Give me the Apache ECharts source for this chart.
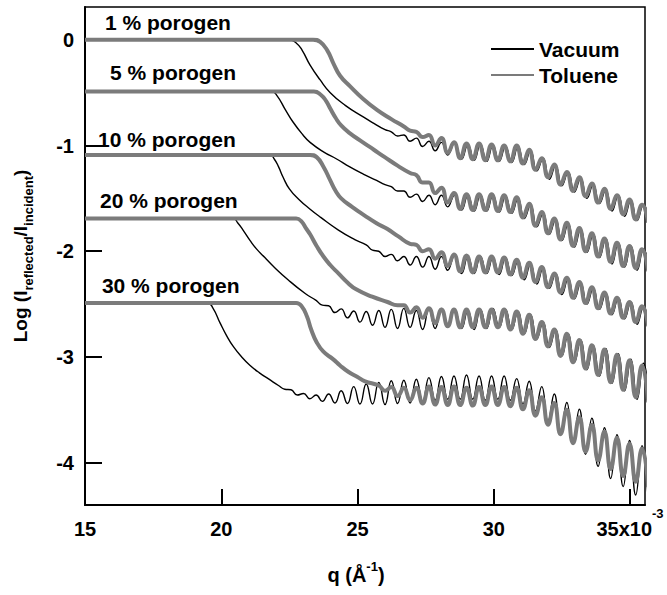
<!DOCTYPE html>
<html><head><meta charset="utf-8">
<script src="https://cdn.jsdelivr.net/npm/echarts@6/dist/echarts.min.js"></script>
<style>html,body{margin:0;padding:0;background:#fff}#c{width:667px;height:595px}</style>
</head><body><div id="c"></div>
<script>
// ---- data (q in units of 1e-3 1/Å, y = log reflectivity) ----
const xTicks = [15, 20, 25, 30, 35];
const yTicks = [-4, -3, -2, -1, 0];
const porogenLabels = ['1 % porogen', '5 % porogen', '10 % porogen', '20 % porogen', '30 % porogen'];

const vac1 = [[15,0],[22.49,0],[22.75,-0.03],[22.97,-0.1],[23.26,-0.24],[23.63,-0.38],[24.0,-0.5],[24.55,-0.62],[25.21,-0.73],[25.6,-0.79],
[26.01,-0.85],[26.24,-0.87],[26.47,-0.91],[26.70,-0.90],[26.93,-0.96],[27.16,-0.93],[27.39,-1.01],[27.62,-0.96],[27.85,-1.05],[28.08,-0.97],[28.31,-1.09],[28.56,-0.98],[28.82,-1.13],[29.05,-0.99],[29.28,-1.14],[29.51,-0.99],[29.74,-1.15],[29.97,-1.00],[30.20,-1.15],[30.43,-1.01],[30.66,-1.16],[30.89,-1.01],[31.12,-1.18],[31.35,-1.05],[31.58,-1.24],[31.81,-1.12],[32.04,-1.32],[32.27,-1.19],[32.50,-1.38],[32.73,-1.25],[32.96,-1.44],[33.19,-1.31],[33.42,-1.50],[33.65,-1.37],[33.88,-1.55],[34.11,-1.42],[34.34,-1.62],[34.57,-1.47],[34.80,-1.67],[35.03,-1.52],[35.26,-1.71],[35.49,-1.56],[35.72,-1.75]];

const tol1 = [[15,0],[23.37,0],[23.63,-0.02],[23.89,-0.1],[24.11,-0.22],[24.36,-0.34],[24.73,-0.44],[25.21,-0.56],[25.7,-0.66],[26.24,-0.75],[26.7,-0.82],
[26.93,-0.86],[27.16,-0.87],[27.39,-0.92],[27.62,-0.90],[27.85,-1.00],[28.08,-0.93],[28.31,-1.07],[28.54,-0.97],[28.77,-1.12],[29.00,-0.98],[29.23,-1.13],[29.46,-0.98],[29.69,-1.14],[29.92,-0.99],[30.15,-1.14],[30.38,-1.00],[30.61,-1.15],[30.84,-1.00],[31.07,-1.17],[31.30,-1.04],[31.53,-1.23],[31.76,-1.12],[31.99,-1.30],[32.22,-1.18],[32.45,-1.37],[32.68,-1.25],[32.91,-1.43],[33.14,-1.30],[33.37,-1.48],[33.60,-1.36],[33.83,-1.54],[34.06,-1.41],[34.29,-1.60],[34.52,-1.47],[34.75,-1.65],[34.98,-1.51],[35.21,-1.70],[35.44,-1.56],[35.67,-1.73]];

const vac5 = [[15,-0.49],[21.85,-0.49],[22.05,-0.53],[22.35,-0.66],[22.64,-0.78],[23.0,-0.9],[23.26,-0.97],[23.75,-1.06],[24.25,-1.13],[24.7,-1.2],[25.21,-1.27],[25.7,-1.33],
[26.01,-1.37],[26.24,-1.39],[26.47,-1.43],[26.70,-1.43],[26.93,-1.49],[27.16,-1.46],[27.39,-1.53],[27.62,-1.47],[27.85,-1.56],[28.08,-1.47],[28.31,-1.58],[28.56,-1.47],[28.82,-1.61],[29.05,-1.47],[29.28,-1.62],[29.51,-1.47],[29.74,-1.62],[29.97,-1.47],[30.20,-1.63],[30.43,-1.48],[30.66,-1.64],[30.89,-1.50],[31.12,-1.69],[31.35,-1.56],[31.58,-1.77],[31.81,-1.64],[32.04,-1.84],[32.27,-1.70],[32.50,-1.90],[32.73,-1.74],[32.96,-1.96],[33.19,-1.79],[33.42,-2.01],[33.65,-1.84],[33.88,-2.06],[34.11,-1.88],[34.34,-2.12],[34.57,-1.92],[34.80,-2.15],[35.03,-1.95],[35.26,-2.18],[35.49,-1.98],[35.72,-2.21]];

const tol5 = [[15,-0.49],[23.4,-0.49],[23.65,-0.52],[23.85,-0.58],[24.0,-0.65],[24.2,-0.74],[24.4,-0.81],[24.7,-0.88],[25.2,-0.97],[25.6,-1.04],[26.0,-1.11],[26.47,-1.19],[26.93,-1.26],
[27.16,-1.28],[27.39,-1.35],[27.62,-1.35],[27.85,-1.45],[28.08,-1.40],[28.31,-1.54],[28.54,-1.45],[28.77,-1.60],[29.00,-1.46],[29.23,-1.61],[29.46,-1.46],[29.69,-1.61],[29.92,-1.46],[30.15,-1.62],[30.38,-1.47],[30.61,-1.63],[30.84,-1.49],[31.07,-1.68],[31.30,-1.55],[31.53,-1.76],[31.76,-1.63],[31.99,-1.83],[32.22,-1.69],[32.45,-1.89],[32.68,-1.73],[32.91,-1.95],[33.14,-1.78],[33.37,-2.00],[33.60,-1.83],[33.83,-2.05],[34.06,-1.88],[34.29,-2.10],[34.52,-1.92],[34.75,-2.14],[34.98,-1.95],[35.21,-2.16],[35.44,-1.98],[35.67,-2.19]];

const vac10 = [[15,-1.09],[21.79,-1.09],[21.95,-1.13],[22.1,-1.2],[22.27,-1.3],[22.5,-1.41],[22.85,-1.51],[23.25,-1.6],[23.65,-1.68],[24.3,-1.8],[24.9,-1.89],
[25.32,-1.94],[25.55,-1.99],[25.78,-2.00],[26.01,-2.05],[26.24,-2.03],[26.47,-2.09],[26.70,-2.05],[26.93,-2.13],[27.16,-2.05],[27.39,-2.15],[27.62,-2.05],[27.85,-2.17],[28.08,-2.05],[28.31,-2.18],[28.56,-2.04],[28.82,-2.21],[29.05,-2.05],[29.28,-2.21],[29.51,-2.05],[29.74,-2.21],[29.97,-2.06],[30.20,-2.22],[30.43,-2.06],[30.66,-2.23],[30.89,-2.09],[31.12,-2.27],[31.35,-2.12],[31.58,-2.31],[31.81,-2.16],[32.04,-2.35],[32.27,-2.21],[32.50,-2.41],[32.73,-2.26],[32.96,-2.45],[33.19,-2.30],[33.42,-2.50],[33.65,-2.35],[33.88,-2.55],[34.11,-2.40],[34.34,-2.60],[34.57,-2.44],[34.80,-2.64],[35.03,-2.48],[35.26,-2.69],[35.49,-2.53],[35.72,-2.73]];

const tol10 = [[15,-1.09],[23.26,-1.09],[23.5,-1.11],[23.75,-1.2],[24.0,-1.33],[24.2,-1.43],[24.4,-1.5],[24.8,-1.58],[25.25,-1.66],[25.7,-1.735],[26.1,-1.79],[26.5,-1.86],
[26.93,-1.93],[27.16,-1.94],[27.39,-2.00],[27.62,-1.98],[27.85,-2.07],[28.08,-2.01],[28.31,-2.14],[28.54,-2.03],[28.77,-2.19],[29.00,-2.04],[29.23,-2.20],[29.46,-2.05],[29.69,-2.20],[29.92,-2.05],[30.15,-2.20],[30.38,-2.06],[30.61,-2.22],[30.84,-2.08],[31.07,-2.25],[31.30,-2.11],[31.53,-2.29],[31.76,-2.15],[31.99,-2.34],[32.22,-2.21],[32.45,-2.39],[32.68,-2.25],[32.91,-2.44],[33.14,-2.29],[33.37,-2.49],[33.60,-2.34],[33.83,-2.54],[34.06,-2.39],[34.29,-2.59],[34.52,-2.44],[34.75,-2.63],[34.98,-2.48],[35.21,-2.67],[35.44,-2.52],[35.67,-2.71]];

const vac20 = [[15,-1.69],[20.44,-1.69],[20.6,-1.73],[20.8,-1.8],[21.06,-1.9],[21.3,-1.98],[21.6,-2.06],[21.9,-2.14],[22.45,-2.27],[23.08,-2.4],
[23.48,-2.465],[23.71,-2.51],[23.94,-2.515],[24.17,-2.58],[24.40,-2.545],[24.63,-2.63],[24.86,-2.565],[25.09,-2.67],[25.32,-2.57],[25.55,-2.70],[25.78,-2.56],[26.01,-2.72],[26.24,-2.55],[26.47,-2.73],[26.70,-2.54],[26.93,-2.72],[27.16,-2.56],[27.39,-2.74],[27.62,-2.55],[27.85,-2.73],[28.08,-2.54],[28.31,-2.72],[28.56,-2.55],[28.82,-2.73],[29.05,-2.56],[29.28,-2.74],[29.51,-2.55],[29.74,-2.73],[29.97,-2.54],[30.20,-2.72],[30.43,-2.55],[30.66,-2.74],[30.89,-2.57],[31.12,-2.78],[31.35,-2.60],[31.58,-2.83],[31.81,-2.67],[32.04,-2.91],[32.27,-2.74],[32.50,-2.99],[32.73,-2.78],[32.96,-3.05],[33.19,-2.84],[33.42,-3.12],[33.65,-2.89],[33.88,-3.18],[34.11,-2.92],[34.34,-3.25],[34.57,-2.97],[34.80,-3.32],[35.03,-3.02],[35.26,-3.40],[35.49,-3.06],[35.72,-3.45]];

const tol20 = [[15,-1.69],[22.75,-1.69],[22.95,-1.72],[23.1,-1.78],[23.26,-1.84],[23.5,-1.95],[23.75,-2.05],[24.0,-2.13],[24.3,-2.21],[24.65,-2.3],[24.95,-2.36],[25.54,-2.43],[26.1,-2.48],
[26.47,-2.51],[26.70,-2.51],[26.93,-2.58],[27.16,-2.53],[27.39,-2.63],[27.62,-2.54],[27.85,-2.68],[28.08,-2.55],[28.31,-2.71],[28.54,-2.55],[28.77,-2.72],[29.00,-2.55],[29.23,-2.72],[29.46,-2.55],[29.69,-2.72],[29.92,-2.55],[30.15,-2.72],[30.38,-2.55],[30.61,-2.74],[30.84,-2.57],[31.07,-2.78],[31.30,-2.60],[31.53,-2.83],[31.76,-2.67],[31.99,-2.90],[32.22,-2.74],[32.45,-2.99],[32.68,-2.78],[32.91,-3.05],[33.14,-2.84],[33.37,-3.11],[33.60,-2.89],[33.83,-3.17],[34.06,-2.93],[34.29,-3.24],[34.52,-2.98],[34.75,-3.31],[34.98,-3.03],[35.21,-3.38],[35.44,-3.08],[35.67,-3.43]];

const vac30 = [[15,-2.49],[19.5,-2.49],[19.7,-2.54],[19.96,-2.68],[20.2,-2.8],[20.44,-2.9],[20.75,-3.0],[21.06,-3.08],[21.4,-3.15],[21.75,-3.21],[22.1,-3.27],
[22.33,-3.305],[22.56,-3.31],[22.79,-3.36],[23.02,-3.345],[23.25,-3.395],[23.48,-3.36],[23.71,-3.42],[23.94,-3.35],[24.17,-3.435],[24.40,-3.32],[24.63,-3.44],[24.86,-3.28],[25.09,-3.445],[25.32,-3.255],[25.55,-3.445],[25.78,-3.24],[26.01,-3.45],[26.24,-3.225],[26.47,-3.44],[26.70,-3.22],[26.93,-3.435],[27.16,-3.21],[27.39,-3.42],[27.62,-3.195],[27.85,-3.41],[28.08,-3.185],[28.31,-3.40],[28.54,-3.18],[28.77,-3.40],[29.00,-3.17],[29.23,-3.40],[29.46,-3.18],[29.69,-3.41],[29.92,-3.18],[30.15,-3.40],[30.38,-3.18],[30.61,-3.41],[30.84,-3.205],[31.07,-3.445],[31.30,-3.23],[31.53,-3.51],[31.76,-3.28],[31.99,-3.605],[32.22,-3.35],[32.45,-3.73],[32.68,-3.43],[32.91,-3.82],[33.14,-3.495],[33.37,-3.92],[33.60,-3.58],[33.83,-4.035],[34.06,-3.67],[34.29,-4.15],[34.52,-3.735],[34.75,-4.225],[34.98,-3.79],[35.21,-4.305],[35.44,-3.84],[35.67,-4.37]];

const tol30 = [[15,-2.49],[22.75,-2.49],[22.95,-2.52],[23.15,-2.62],[23.3,-2.74],[23.5,-2.86],[23.75,-2.95],[24.1,-3.02],[24.36,-3.08],[24.66,-3.14],[25.0,-3.19],[25.28,-3.23],
[25.78,-3.27],[26.01,-3.32],[26.24,-3.285],[26.47,-3.37],[26.70,-3.29],[26.93,-3.41],[27.16,-3.29],[27.39,-3.44],[27.62,-3.28],[27.85,-3.45],[28.08,-3.285],[28.31,-3.455],[28.54,-3.28],[28.77,-3.455],[29.00,-3.29],[29.23,-3.46],[29.46,-3.285],[29.69,-3.455],[29.92,-3.28],[30.15,-3.455],[30.38,-3.285],[30.61,-3.465],[30.84,-3.29],[31.07,-3.495],[31.30,-3.315],[31.53,-3.555],[31.76,-3.38],[31.99,-3.64],[32.22,-3.435],[32.45,-3.73],[32.68,-3.50],[32.91,-3.815],[33.14,-3.57],[33.37,-3.895],[33.60,-3.64],[33.83,-3.98],[34.06,-3.705],[34.29,-4.06],[34.52,-3.765],[34.75,-4.125],[34.98,-3.82],[35.21,-4.18],[35.44,-3.865],[35.67,-4.23]];

// annotation anchors (data coords of the left/middle of each label) – placement only
const labelAnchors = [[15.73, 0.16], [15.92, -0.31], [15.48, -0.94], [15.55, -1.52], [15.62, -2.32]];

const FONT = '"Liberation Sans", Arial, Helvetica, sans-serif';
const BLACK = '#000000';
const GRAY = '#7b7b7b';

const chart = echarts.init(document.getElementById('c'), null, {renderer: 'svg'});

function vacSeries(d) {
  return {name: 'Vacuum', type: 'line', data: d, smooth: 0.5, symbol: 'none', showSymbol: false,
    clip: true, lineStyle: {color: BLACK, width: 1.4}, itemStyle: {color: BLACK}, z: 2, silent: true};
}
function tolSeries(d) {
  return {name: 'Toluene', type: 'line', data: d, smooth: 0.5, symbol: 'none', showSymbol: false,
    clip: true, lineStyle: {color: GRAY, width: 4}, itemStyle: {color: GRAY}, z: 3, silent: true};
}

const option = {
  animation: false,
  backgroundColor: '#ffffff',
  grid: {left: 85, right: 22, top: 7, bottom: 90, show: true, borderColor: '#000', borderWidth: 1.5, backgroundColor: 'transparent'},
  legend: {
    data: ['Vacuum', 'Toluene'], orient: 'vertical', left: 485, top: 32, itemWidth: 43, itemHeight: 14, itemGap: 2,
    itemStyle: {opacity: 0, borderWidth: 0},
    textStyle: {fontSize: 21, fontWeight: 'bold', fontFamily: FONT, color: '#000', lineHeight: 24},
    selectedMode: false
  },
  xAxis: {
    type: 'value', min: 15, max: 35.55,
    axisLine: {onZero: false, lineStyle: {color: '#000', width: 2}},
    axisTick: {inside: true, length: 16, customValues: xTicks, lineStyle: {color: '#000', width: 2}},
    splitLine: {show: false},
    axisLabel: {
      customValues: xTicks, margin: 2, color: '#000',
      formatter: v => v === 35 ? '{n|35x10}{p|-3}' : '{n|' + v + '}',
      rich: {
        n: {fontSize: 20, fontWeight: 'bold', fontFamily: FONT, color: '#000', lineHeight: 44, verticalAlign: 'middle'},
        p: {fontSize: 13, fontWeight: 'bold', fontFamily: FONT, color: '#000', lineHeight: 22, verticalAlign: 'top'}
      }
    },
    name: '{m|q (Å}{p|-1}{m|)}', nameLocation: 'middle', nameGap: 55,
    nameTextStyle: {
      padding: [0, 18, 0, 0],
      rich: {
        m: {fontSize: 20, fontWeight: 'bold', fontFamily: FONT, color: '#000', lineHeight: 30, verticalAlign: 'middle'},
        p: {fontSize: 13, fontWeight: 'bold', fontFamily: FONT, color: '#000', lineHeight: 18, verticalAlign: 'top'}
      }
    }
  },
  yAxis: {
    type: 'value', min: -4.4, max: 0.31,
    axisLine: {onZero: false, lineStyle: {color: '#000', width: 2}},
    axisTick: {inside: true, length: 17, customValues: yTicks, lineStyle: {color: '#000', width: 2}},
    splitLine: {show: false},
    axisLabel: {customValues: yTicks, margin: 11, color: '#000', fontSize: 20, fontWeight: 'bold', fontFamily: FONT},
    name: '{m|Log (I}{s|reflected}{m|/I}{s|incident}{m|)}', nameLocation: 'middle', nameGap: 50,
    nameTextStyle: {
      rich: {
        m: {fontSize: 19, fontWeight: 'bold', fontFamily: FONT, color: '#000', lineHeight: 30, verticalAlign: 'middle'},
        s: {fontSize: 13, fontWeight: 'bold', fontFamily: FONT, color: '#000', lineHeight: 16, verticalAlign: 'bottom'}
      }
    }
  },
  series: [
    vacSeries(vac1), vacSeries(vac5), vacSeries(vac10), vacSeries(vac20), vacSeries(vac30),
    tolSeries(tol1), tolSeries(tol5), tolSeries(tol10), tolSeries(tol20), tolSeries(tol30)
  ]
};
chart.setOption(option);

const graphics = porogenLabels.map((t, i) => {
  const p = chart.convertToPixel({xAxisIndex: 0, yAxisIndex: 0}, labelAnchors[i]);
  return {type: 'text', x: p[0], y: p[1], z: 10, silent: true,
    style: {text: t, fill: '#000', fontSize: 21, fontWeight: 'bold', fontFamily: FONT,
      textAlign: 'left', textVerticalAlign: 'middle', align: 'left', verticalAlign: 'middle'}};
});
chart.setOption({graphic: graphics});
</script></body></html>
